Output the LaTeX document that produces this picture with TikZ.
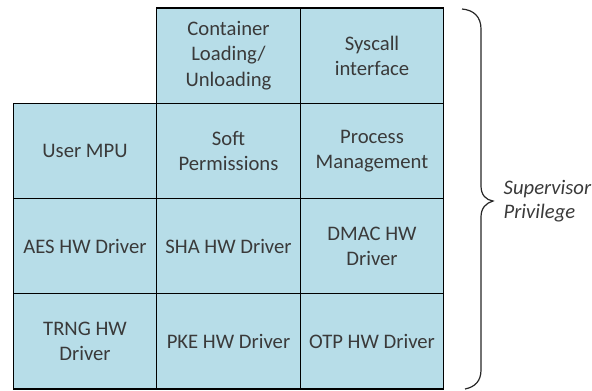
\documentclass[tikz,border=0pt]{standalone}
\usepackage{fontspec}
\setmainfont{Carlito}
\definecolor{cellblue}{HTML}{B7DDE8}
\definecolor{textgray}{HTML}{3A3A3A}
\tikzset{
  cell/.style={draw=black, fill=cellblue, line width=0.8pt, inner sep=0pt, outer sep=0pt,
    minimum width=107.5pt, minimum height=71.4pt, align=center, text=textgray,
    font=\fontsize{15.5}{18.8}\selectfont},
  bracelabel/.style={anchor=west, align=left, text=textgray,
    font=\fontsize{15.5}{18}\selectfont\itshape}
}
\begin{document}
\begin{tikzpicture}[x=0.75pt,y=-0.75pt]
\useasboundingbox (0,0) rectangle (592,390);
% top row
\node[cell] (load) at (228.5,55.6) {Container\\Loading/\\Unloading};
\node[cell] (sys) at (372,55.6) {Syscall\\interface};
% second row
\node[cell] (mpu) at (85,150.9) {User MPU};
\node[cell] (perm) at (228.5,150.9) {Soft\\Permissions};
\node[cell] (proc) at (372,150.9) {Process\\Management};
% third row
\node[cell] (aes) at (85,246.1) {AES HW Driver};
\node[cell] (sha) at (228.5,246.1) {SHA HW Driver};
\node[cell] (dmac) at (372,246.1) {DMAC HW\\Driver};
% bottom row
\node[cell] (trng) at (85,341.4) {TRNG HW\\Driver};
\node[cell] (pke) at (228.5,341.4) {PKE HW Driver};
\node[cell] (otp) at (372,341.4) {OTP HW Driver};
% brace
\coordinate (tip) at (493,201);
\draw[line width=0.9pt, draw=black!85] (462,9) .. controls (474,10) and (481,17) .. (481,29)
  -- (481,186) .. controls (481,195) and (486,200) .. (tip)
  .. controls (486,203) and (481,208) .. (481,217)
  -- (481,370) .. controls (481,381) and (475,387) .. (465,389);
\node[bracelabel] (priv) at (499,201) {Supervisor\\Privilege};
\end{tikzpicture}
\end{document}
